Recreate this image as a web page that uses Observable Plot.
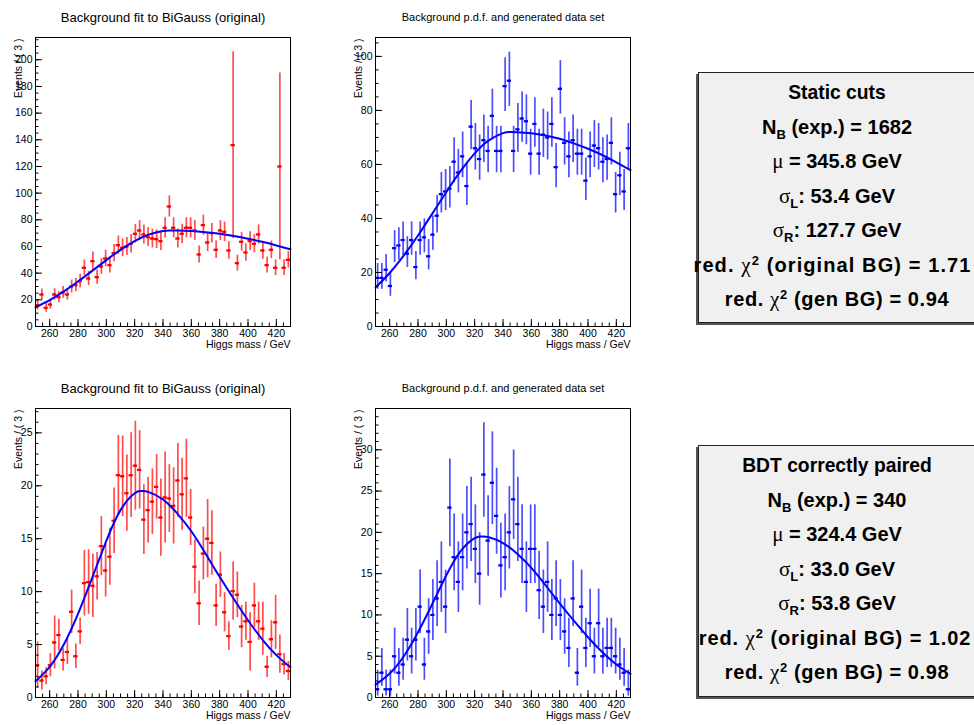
<!DOCTYPE html>
<html><head><meta charset="utf-8">
<script src="https://cdn.jsdelivr.net/npm/d3@7"></script>
<script src="https://cdn.jsdelivr.net/npm/@observablehq/plot@0.6"></script>
<style>
body{margin:0;background:#fff;}
#root{position:relative;width:974px;height:725px;overflow:hidden;font-family:"Liberation Sans",Arial,Helvetica,sans-serif;background:#fff;}
.panel{position:absolute;}
.box{position:absolute;left:698px;width:278px;background:#f0f0f0;border:1px solid #222;box-shadow:-2px 2px 0 #555;box-sizing:border-box;font-weight:bold;font-size:20px;color:#000;padding-top:2.5px;}
.ln{height:34.5px;display:flex;justify-content:center;align-items:center;white-space:nowrap;}
.g{font-family:"Liberation Serif","DejaVu Serif",serif;font-weight:normal;font-size:21px;}
.sb{font-size:13px;position:relative;top:5px;}
.sp{font-size:13px;position:relative;top:-7px;}
</style></head>
<body><div id="root"></div>
<script>
// ---- data ----
const massBins = [251.5,254.5,257.5,260.5,263.5,266.5,269.5,272.5,275.5,278.5,281.5,284.5,287.5,290.5,293.5,296.5,299.5,302.5,305.5,308.5,311.5,314.5,317.5,320.5,323.5,326.5,329.5,332.5,335.5,338.5,341.5,344.5,347.5,350.5,353.5,356.5,359.5,362.5,365.5,368.5,371.5,374.5,377.5,380.5,383.5,386.5,389.5,392.5,395.5,398.5,401.5,404.5,407.5,410.5,413.5,416.5,419.5,422.5,425.5,428.5];
const binHalfWidth = 1.5;

const staticOrig = [16,24,14,16.5,24,22,25.5,24,30,31,34,44,36,49,37,45,51,46,55,61,59,60,62,69.5,72,69,67,66,65.5,64,74,90,74,66,69.5,74,74,72,54,76,63,70,57.5,72,71,57,136,47.5,63.5,55.5,64,62,69,57,46,57.5,44,120,44,50];
const staticOrigErr = [3.6,4.2,3.3,3.6,4.3,4.1,4.4,4.2,4.8,4.9,5.1,5.8,5.3,6.9,5.3,5.9,6.2,5.9,6.5,6.8,6.7,6.7,6.9,6.9,7.4,7.2,7.1,7.1,7.0,7.0,7.5,7.9,7.5,7.1,7.2,7.5,7.5,7.4,6.4,7.5,6.9,7.3,6.6,7.4,7.3,6.6,70,6.0,6.9,6.5,7.0,6.8,7.2,6.6,5.9,6.6,5.8,70,5.8,6.2];
const staticGen = [18,18,21,15,29,30,32,27,32,22,32,33,26,34,41,49,50,51,61,57,63,52,74,66,62,69,65,78,65,65,89,91,65,73,77,76,64,75,64,71,70,75,59,88,68,63,69,64,64,54,63,67,66,61,62,68,49,56,50,66];

const bdtOrig = [3.05,1.6,2.0,3.05,5.2,5.9,3.55,4.3,8.1,3.9,6.25,10.8,10.9,10.55,11.45,14.3,12.0,13.3,16.7,21.0,20.9,19.3,21.0,21.9,21.5,16.8,17.7,18.5,19.9,17.0,18.9,18.8,18.1,20.5,19.2,20.7,17.0,12.35,8.9,13.6,15.0,14.6,8.7,11.6,8.05,5.8,10.05,9.7,6.7,7.2,5.25,8.7,7.2,6.5,2.9,5.5,7.1,4.1,3.15,2.5];
const bdtOrigErr = [2.2,0.9,0.8,1.1,2.5,1.5,1.05,1.2,2.05,1.15,1.25,3.1,3.05,3.0,2.25,2.8,2.5,2.7,3.1,3.75,3.8,3.6,4.0,4.2,3.7,3.3,3.1,3.1,3.05,3.65,4.3,3.2,3.6,3.5,3.4,3.7,2.65,2.55,2.1,2.5,3.7,3.05,2.0,2.15,1.85,1.35,2.75,2.15,2.0,1.8,2.75,2.1,1.8,2.5,1.0,1.75,2.55,1.8,1.0,0.9];
const bdtGen = [1,3,1,1,5,3,4,7,5,7,11,4,8,10,12,14,11,23,17,14,17,20,21,18,15,27,19,26,22,16,17,20,24,21,18,14,18,18,13,11,14,10,12,10,8,6,12,3,11,6,9,5,9,5,6,6,5,4,3,1];

// fitted BiGauss p.d.f.
const staticCurveMass = [250,260,270,280,290,300,310,320,330,340,345,350,360,370,380,390,400,410,420,430];
const staticCurve = [14.4,19.8,26.3,33.7,41.7,49.8,57.5,64.1,68.9,71.6,72.0,71.96,71.56,70.7,69.5,67.8,65.8,63.5,60.8,57.9];
const bdtCurveMass = [250,260,270,280,290,300,310,320,325,330,340,350,360,370,380,390,400,410,420,430];
const bdtCurve = [1.54,2.9,5.0,7.9,11.3,14.8,17.7,19.3,19.5,19.4,18.7,17.4,15.7,13.6,11.4,9.3,7.3,5.5,4.0,2.85];

// axes
const massDomain = [250, 430];
const massTicks = [260,280,300,320,340,360,380,400,420];
const staticOrigYTicks = [0,20,40,60,80,100,120,140,160,180,200];
const staticGenYTicks = [0,20,40,60,80,100];
const bdtOrigYTicks = [0,5,10,15,20,25];
const bdtGenYTicks = [0,5,10,15,20,25,30];

const titles = ["Background fit to BiGauss (original)", "Background p.d.f. and generated data set"];
const xTitle = "Higgs mass / GeV";
const yTitle = "Events / ( 3 )";

// Poisson (Gehrels) 68% interval used for unweighted data points
const poissonLo = n => n - n * Math.pow(1 - 1/(9*n) - 1/(3*Math.sqrt(n)), 3);
const poissonHi = n => 1 + Math.sqrt(n + 0.75);

function panel({left, top, height, mb, values, lo, hi, color, yMax, yTicks, yMinorStep, title, titleSize, curveX, curveY}) {
  const bins = massBins.map((x, i) => ({x, v: values[i], lo: lo[i], hi: hi[i]}));
  const curve = curveX.map((m, i) => ({m, f: curveY[i]}));
  const xMinor = d3.range(250, 430.01, 5);
  const yMinor = d3.range(0, yMax, yMinorStep);
  const ff = '"Liberation Sans", Arial, Helvetica, sans-serif';
  const chart = Plot.plot({
    width: 310, height,
    marginLeft: 35, marginRight: 20, marginTop: 37, marginBottom: mb,
    style: {background: "transparent", fontFamily: ff, fontSize: "10.5px", color: "black", overflow: "visible"},
    x: {domain: massDomain},
    y: {domain: [0, yMax]},
    marks: [
      Plot.ruleX(bins, {x: "x", y1: d => Math.max(0, d.v - d.lo), y2: d => d.v + d.hi, stroke: color, strokeWidth: 1.7, strokeOpacity: 0.7}),
      Plot.ruleY(bins, {y: "v", x1: d => d.x - binHalfWidth, x2: d => d.x + binHalfWidth, stroke: color, strokeWidth: 2.2}),
      Plot.dot(bins, {x: "x", y: "v", r: 1.2, fill: color}),
      Plot.line(curve, {x: "m", y: "f", stroke: "#0000ff", strokeWidth: 2, curve: "natural"}),
      Plot.frame({stroke: "black", strokeWidth: 1}),
      Plot.axisY(yMinor, {tickSize: -3.5, fill: "none", label: null}),
      Plot.axisY(yTicks, {tickSize: -7, tickPadding: 10, label: null}),
      Plot.axisX(xMinor, {tickSize: -3.5, fill: "none", label: null}),
      Plot.axisX(massTicks, {tickSize: -7, tickPadding: 10.5, label: null}),
      Plot.text([title], {frameAnchor: "top", dy: -24.5, fontSize: titleSize, fill: "black"}),
      Plot.text([xTitle], {frameAnchor: "bottom-right", textAnchor: "end", dy: 21.5, fontSize: 10.5, fill: "black"}),
      Plot.text([yTitle], {frameAnchor: "top-left", rotate: -90, textAnchor: "end", dx: -21, dy: 1, fontSize: 10.5, fill: "black"})
    ]
  });
  chart.classList.add("panel");
  chart.style.left = left + "px";
  chart.style.top = top + "px";
  document.getElementById("root").appendChild(chart);
}

const root = document.getElementById("root");

panel({left: 0, top: 0, height: 365, mb: 39, values: staticOrig, lo: staticOrigErr, hi: staticOrigErr, color: "#ff0000",
  yMax: 216.7, yTicks: staticOrigYTicks, yMinorStep: 5, title: titles[0], titleSize: 13, curveX: staticCurveMass, curveY: staticCurve});
panel({left: 340, top: 0, height: 365, mb: 39, values: staticGen, lo: staticGen.map(poissonLo), hi: staticGen.map(poissonHi), color: "#0000ff",
  yMax: 107, yTicks: staticGenYTicks, yMinorStep: 5, title: titles[1], titleSize: 11, curveX: staticCurveMass, curveY: staticCurve});
panel({left: 0, top: 371, height: 354, mb: 28, values: bdtOrig, lo: bdtOrigErr, hi: bdtOrigErr, color: "#ff0000",
  yMax: 27.3, yTicks: bdtOrigYTicks, yMinorStep: 1, title: titles[0], titleSize: 13, curveX: bdtCurveMass, curveY: bdtCurve});
panel({left: 340, top: 371, height: 354, mb: 28, values: bdtGen, lo: bdtGen.map(poissonLo), hi: bdtGen.map(poissonHi), color: "#0000ff",
  yMax: 35, yTicks: bdtGenYTicks, yMinorStep: 1, title: titles[1], titleSize: 11, curveX: bdtCurveMass, curveY: bdtCurve});

// ---- fit summary boxes ----
const boxes = [
  {top: 72, height: 251, name: "Static cuts", nb: "1682", mu: "345.8", sl: "53.4", sr: "127.7", chiOrig: "1.71", chiGen: "0.94", lsOrig: 1.1, shift: 9},
  {top: 445, height: 252, name: "BDT correctly paired", nb: "340", mu: "324.4", sl: "33.0", sr: "53.8", chiOrig: "1.02", chiGen: "0.98", lsOrig: 0.9, shift: 4}
];
for (const b of boxes) {
  const div = document.createElement("div");
  div.className = "box";
  div.style.top = b.top + "px";
  div.style.height = b.height + "px";
  div.innerHTML = `
    <div class="ln" style="font-size:19.3px">${b.name}</div>
    <div class="ln"><span>N<span class="sb">B</span> (exp.) = ${b.nb}</span></div>
    <div class="ln"><span><span class="g">μ</span> = ${b.mu} GeV</span></div>
    <div class="ln"><span><span class="g">σ</span><span class="sb">L</span>: ${b.sl} GeV</span></div>
    <div class="ln"><span><span class="g">σ</span><span class="sb">R</span>: ${b.sr} GeV</span></div>
    <div class="ln" style="padding-right:${b.shift}px"><span style="letter-spacing:${b.lsOrig}px">red. <span class="g">χ</span><span class="sp">2</span> (original BG) = ${b.chiOrig}</span></div>
    <div class="ln"><span style="letter-spacing:0.6px">red. <span class="g">χ</span><span class="sp">2</span> (gen BG) = ${b.chiGen}</span></div>`;
  root.appendChild(div);
}
</script>
</body></html>
